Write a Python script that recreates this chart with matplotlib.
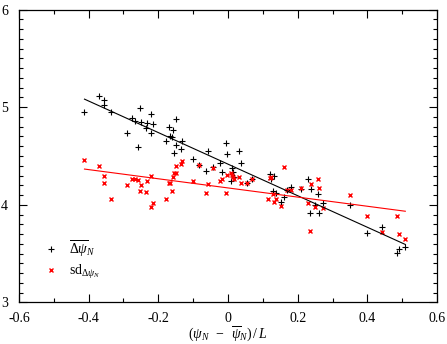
import numpy as np
import matplotlib
matplotlib.use("Agg")
import matplotlib.pyplot as plt
from matplotlib.ticker import MultipleLocator

# ---- data ----
x_mean = [-0.412, -0.371, -0.357, -0.357, -0.335, -0.290, -0.275, -0.267, -0.258, -0.252,
          -0.249, -0.235, -0.232, -0.221, -0.221, -0.216, -0.177, -0.170, -0.166, -0.162,
          -0.157, -0.154, -0.149, -0.148, -0.136, -0.131, -0.101, -0.083, -0.062, -0.057,
          -0.042, -0.022, -0.017, -0.005, -0.003, 0.012, 0.015, 0.017, 0.010, 0.032,
          0.038, 0.055, 0.068, 0.120, 0.123, 0.128, 0.132, 0.139, 0.152, 0.161,
          0.170, 0.181, 0.210, 0.229, 0.234, 0.237, 0.250, 0.259, 0.261, 0.274,
          0.351, 0.399, 0.443, 0.484, 0.492, 0.509]
y_mean = [4.954, 5.118, 5.074, 5.019, 4.951, 4.732, 4.893, 4.862, 4.592, 4.992,
          4.845, 4.784, 4.838, 4.934, 4.732, 4.825, 4.650, 4.801, 4.705, 4.691,
          4.767, 4.527, 4.879, 4.609, 4.568, 4.650, 4.469, 4.408, 4.346, 4.551,
          4.384, 4.425, 4.339, 4.633, 4.517, 4.377, 4.336, 4.288, 4.244, 4.551,
          4.425, 4.227, 4.264, 4.316, 4.261, 4.145, 4.298, 4.124, 4.029, 4.076,
          4.151, 4.186, 4.162, 4.264, 3.912, 4.162, 3.994, 4.107, 3.912, 4.022,
          3.994, 3.707, 3.769, 3.502, 3.547, 3.564]

x_sd = [-0.412, -0.371, -0.357, -0.357, -0.335, -0.290, -0.275, -0.267, -0.258, -0.252,
        -0.249, -0.235, -0.232, -0.221, -0.221, -0.216, -0.177, -0.170, -0.166, -0.162,
        -0.157, -0.154, -0.149, -0.148, -0.136, -0.131, -0.101, -0.083, -0.062, -0.057,
        -0.042, -0.022, -0.017, -0.005, -0.003, 0.012, 0.015, 0.017, 0.010, 0.032,
        0.038, 0.055, 0.068, 0.115, 0.120, 0.123, 0.128, 0.132, 0.139, 0.152,
        0.161, 0.170, 0.181, 0.210, 0.229, 0.234, 0.237, 0.250, 0.259, 0.261,
        0.274, 0.351, 0.399, 0.443, 0.484, 0.492, 0.509]
y_sd = [4.456, 4.401, 4.295, 4.223, 4.056, 4.206, 4.261, 4.264, 4.251, 4.145,
        4.199, 4.134, 4.240, 4.292, 3.981, 4.015, 4.056, 4.220, 4.223, 4.138,
        4.288, 4.322, 4.326, 4.394, 4.415, 4.449, 4.244, 4.408, 4.117, 4.216,
        4.374, 4.247, 4.261, 4.124, 4.305, 4.305, 4.288, 4.264, 4.322, 4.281,
        4.227, 4.227, 4.264, 4.059, 4.271, 4.281, 4.107, 4.032, 4.059, 3.988,
        4.384, 4.148, 4.148, 4.175, 4.015, 3.731, 4.216, 3.981, 4.268, 4.172,
        3.964, 4.104, 3.882, 3.718, 3.882, 3.697, 3.646]

x_ticks = [-0.6, -0.4, -0.2, 0.0, 0.2, 0.4, 0.6]
x_tick_labels = ['-0.6', '-0.4', '-0.2', '0', '0.2', '0.4', '0.6']
y_ticks = [3, 4, 5, 6]
y_tick_labels = ['3', '4', '5', '6']

label_mean = r'$\overline{\Delta\psi}_N$'
label_sd = r'$\mathrm{sd}_{\Delta\psi_N}$'
xlabel = r'$(\psi_N\;\;-\;\;\overline{\psi}_N)\,/\,L$'

# ---- style ----
plt.rcParams['font.family'] = ['Liberation Serif', 'DejaVu Serif']
plt.rcParams['mathtext.fontset'] = 'custom'
plt.rcParams['mathtext.rm'] = 'Liberation Serif'
plt.rcParams['mathtext.it'] = 'Liberation Serif:italic'
plt.rcParams['mathtext.bf'] = 'Liberation Serif:bold'

fig = plt.figure(figsize=(4.47, 3.44), dpi=100)
ax = fig.add_axes([19/447, 1 - 302.3/344, 418/447, 292.6/344])

xm = np.array(x_mean); ym = np.array(y_mean)
xs = np.array(x_sd); ys = np.array(y_sd)

ax.plot(xm, ym, linestyle='none', marker='+', color='black', ms=5, mew=0.8,
        label=label_mean)
ax.plot(xs, ys, linestyle='none', marker='x', color='red', ms=3, mew=1.0,
        label=label_sd)

# least-squares fit lines
xx = np.array([xm.min(), xm.max()])
pm = np.polyfit(xm, ym, 1)
ax.plot(xx, np.polyval(pm, xx), color='black', lw=0.8)
xx2 = np.array([xs.min(), xs.max()])
ps = np.polyfit(xs, ys, 1)
ax.plot(xx2, np.polyval(ps, xx2), color='red', lw=0.8)

ax.set_xlim(-0.6, 0.6)
ax.set_ylim(3, 6)
ax.xaxis.set_minor_locator(MultipleLocator(0.1))
ax.yaxis.set_minor_locator(MultipleLocator(0.1))
ax.set_xticks(x_ticks)
ax.set_xticklabels(x_tick_labels)
ax.set_yticks(y_ticks)
ax.set_yticklabels(y_tick_labels)
ax.tick_params(which='both', direction='in', top=True, right=True, labelsize=10, width=0.8)
ax.tick_params(which='major', length=6)
ax.tick_params(which='minor', length=3)
ax.tick_params(axis='x', which='major', pad=7)
ax.tick_params(axis='y', which='major', pad=8)

for sp in ax.spines.values():
    sp.set_linewidth(0.9)

ax.set_xlabel(xlabel, fontsize=10, labelpad=0)

leg = ax.legend(loc='lower left', bbox_to_anchor=(0.03, 0.03), frameon=False,
                fontsize=10, handlelength=1.0, handletextpad=0.8, labelspacing=0.25,
                numpoints=1)

fig.savefig('out.png', dpi=100)
